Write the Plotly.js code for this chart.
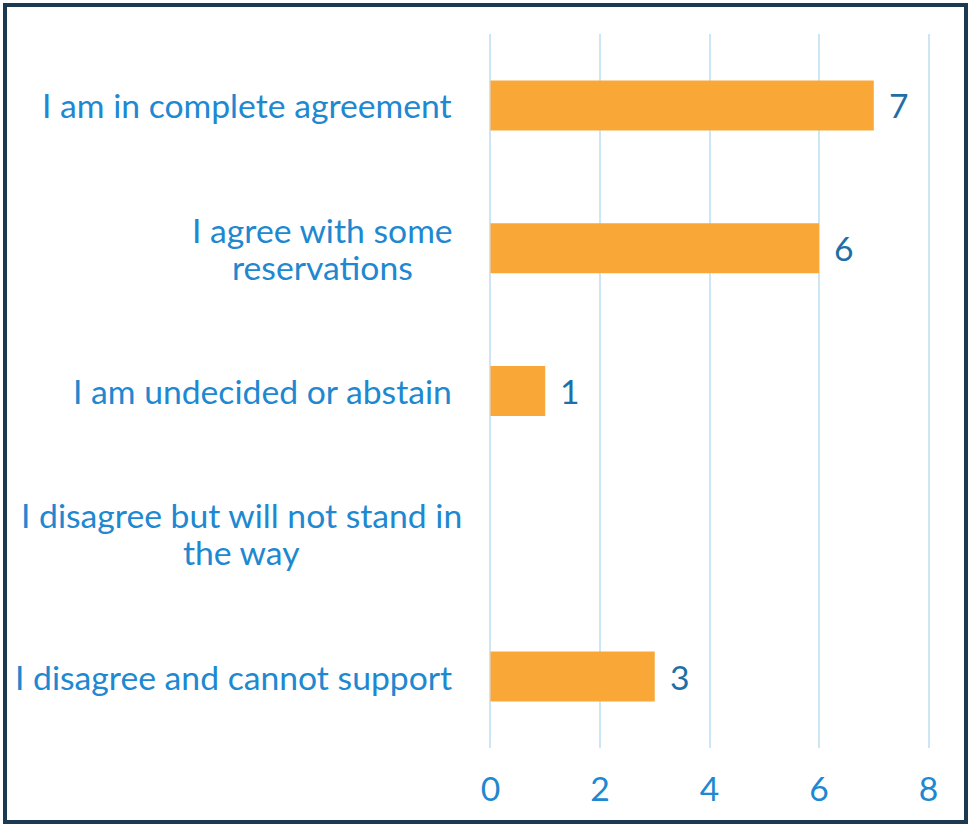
<!DOCTYPE html>
<html>
<head>
<meta charset="utf-8">
<script src="https://cdn.plot.ly/plotly-3.0.1.min.js"></script>
<style>
html,body{margin:0;padding:0;background:#fff;}
#wrap{position:absolute;left:3px;top:3px;width:957px;height:813px;border:4px solid #1B3A52;}
#chart{position:absolute;left:0;top:0;width:969px;height:825px;}
</style>
</head>
<body>
<div id="wrap"></div>
<div id="chart"></div>
<script>
var categories = [
  ["I am in complete agreement"],
  ["I agree with some", "reservations"],
  ["I am undecided or abstain"],
  ["I disagree but will not stand in", "the way"],
  ["I disagree and cannot support"]
];
var values = [7, 6, 1, null, 3];
var xTicks = [0, 2, 4, 6, 8];

var FONT = "Lato, 'Open Sans', sans-serif";
var FSIZE = 33.7;
var labelColor = "#2088D0";
var valueColor = "#1E6FA8";

var ML = 485, MR = 35, W = 969;
var PW = W - ML - MR;
function px2paper(px){ return (px - ML) / PW; }
// label placement (pixels): right edge for single lines, center for wrapped labels
var labelRight = 454;
var labelCenter = [null, 322, null, 242, null];
var lineGap = 37;

var ids = categories.map(function(c, i){ return "c" + i; });

var trace = {
  type: "bar",
  orientation: "h",
  x: values,
  y: ids,
  width: 0.35,
  marker: {color: "#F9A736"},
  hoverinfo: "skip"
};

var annotations = [];
categories.forEach(function(lines, i){
  var n = lines.length;
  lines.forEach(function(line, j){
    var multi = n > 1;
    annotations.push({
      xref: "paper", yref: "y",
      x: multi ? px2paper(labelCenter[i]) : px2paper(labelRight),
      y: ids[i],
      xanchor: multi ? "center" : "right", yanchor: "middle",
      yshift: ((n - 1) / 2 - j) * lineGap,
      text: line, showarrow: false,
      font: {family: FONT, size: FSIZE, color: labelColor}
    });
  });
  if (values[i] !== null && values[i] !== undefined) {
    annotations.push({
      xref: "x", yref: "y",
      x: values[i], y: ids[i],
      xanchor: "left", yanchor: "middle",
      xshift: 13,
      text: String(values[i]), showarrow: false,
      font: {family: FONT, size: FSIZE, color: valueColor}
    });
  }
});

var layout = {
  width: 969, height: 825,
  margin: {l: ML, r: MR, t: 34, b: 77},
  paper_bgcolor: "rgba(0,0,0,0)",
  plot_bgcolor: "rgba(0,0,0,0)",
  showlegend: false,
  xaxis: {
    range: [-0.1, 8.1],
    tickvals: xTicks,
    ticktext: xTicks.map(String),
    showgrid: true, gridcolor: "#CDE6F6", gridwidth: 2,
    zeroline: false, showline: false,
    ticks: "", ticklabelstandoff: 18,
    tickfont: {family: FONT, size: FSIZE, color: labelColor},
    fixedrange: true
  },
  yaxis: {
    autorange: "reversed",
    showticklabels: false,
    showgrid: false, zeroline: false, showline: false,
    fixedrange: true
  },
  annotations: annotations
};

Plotly.newPlot("chart", [trace], layout, {displayModeBar: false, staticPlot: true});
</script>
</body>
</html>
